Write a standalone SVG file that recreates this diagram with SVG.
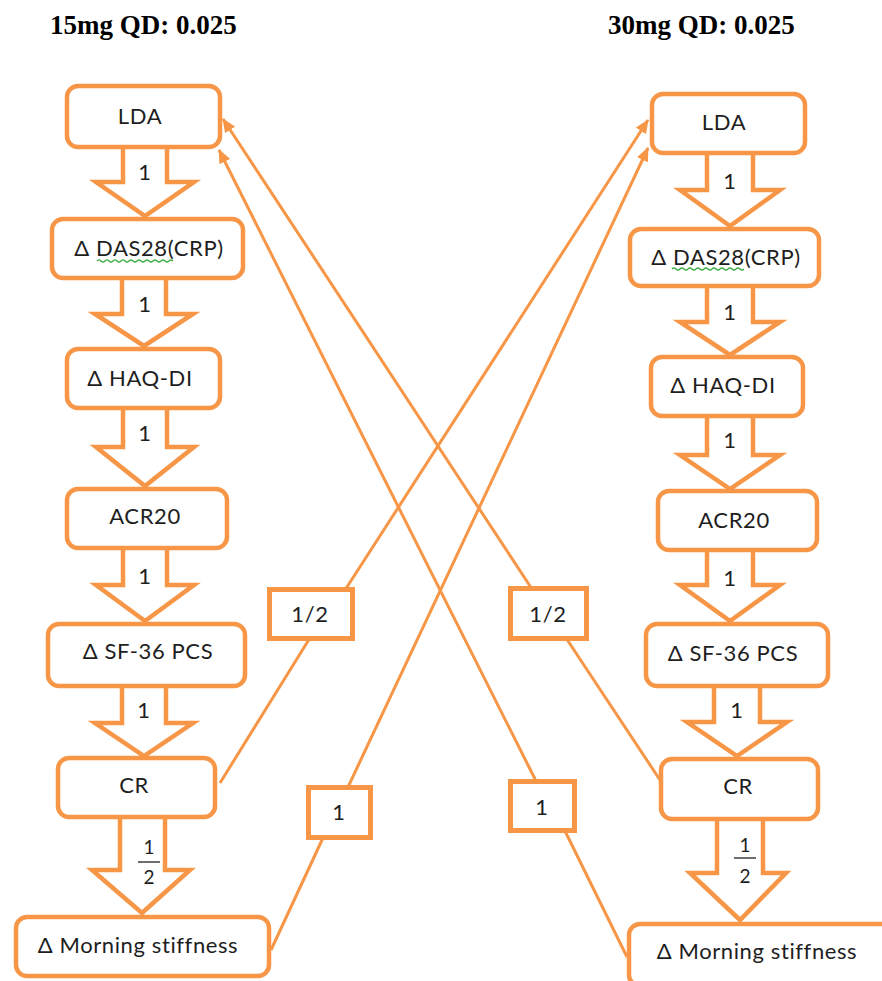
<svg xmlns="http://www.w3.org/2000/svg" width="882" height="981" viewBox="0 0 882 981">
<defs>
<style>
.box{fill:#fff;stroke:#F79646;stroke-width:4.5}
.lbl{fill:#fff;stroke:#F79646;stroke-width:5}
.blk{fill:#fff;stroke:#F79646;stroke-width:4.5;stroke-linejoin:miter}
.con{fill:none;stroke:#F79646;stroke-width:3}
.t{font-family:Lato,"Liberation Sans",sans-serif;font-size:22px;letter-spacing:0.6px;fill:#1e1e1e;text-anchor:middle}
.f{font-family:Lato,"Liberation Sans",sans-serif;font-size:19px;fill:#1e1e1e;text-anchor:middle}
.title{font-family:"Liberation Serif",serif;font-weight:bold;font-size:27px;fill:#000}
.wave{fill:none;stroke:#3cb043;stroke-width:1.2}
</style>
<marker id="ah" markerUnits="userSpaceOnUse" markerWidth="14" markerHeight="12" refX="13" refY="6" orient="auto">
<path d="M0,0 L14,6 L0,12 z" fill="#F79646"/>
</marker>
</defs>
<rect width="882" height="981" fill="#fff"/>

<g id="titles">
<text class="title" x="50" y="34">15mg QD: 0.025</text>
<text class="title" x="608" y="34">30mg QD: 0.025</text>
</g>

<g id="connectors">
<polyline class="con" points="220,783 308,641 347,587 648,120" marker-end="url(#ah)"/>
<polyline class="con" points="271,950 322,840 349,785 648,148" marker-end="url(#ah)"/>
<polyline class="con" points="660,780 568,641 530,586 223,119" marker-end="url(#ah)"/>
<polyline class="con" points="627,957 566,833 535,779 219,150" marker-end="url(#ah)"/>
</g>

<g id="left-arrows">
<path class="blk" d="M123,146 V182 H96 L145,216 L194,182 H167 V146"/>
<path class="blk" d="M122,278 V314 H95 L144,346 L193,314 H166 V278"/>
<path class="blk" d="M123,408 V447 H96 L145,486 L194,447 H167 V408"/>
<path class="blk" d="M123,548 V585 H96 L145,621 L194,585 H167 V548"/>
<path class="blk" d="M122,686 V723 H95 L144,756 L193,723 H166 V686"/>
<path class="blk" d="M120,818 V870 H92 L142,913 L190,870 H165 V818"/>
</g>
<g id="right-arrows">
<path class="blk" d="M707,153 V190 H680 L730,226 L780,190 H753 V153"/>
<path class="blk" d="M707,286 V322 H680 L730,355 L780,322 H753 V286"/>
<path class="blk" d="M707,416 V455 H680 L730,489 L780,455 H753 V416"/>
<path class="blk" d="M707,550 V585 H680 L730,621 L780,585 H753 V550"/>
<path class="blk" d="M714,687 V722 H687 L737,756 L787,722 H760 V687"/>
<path class="blk" d="M717,820 V873 H690 L740,920 L786,873 H763 V820"/>
</g>

<g id="arrow-labels">
<text class="t" x="145" y="180">1</text>
<text class="t" x="145" y="312">1</text>
<text class="t" x="145" y="441">1</text>
<text class="t" x="145" y="584">1</text>
<text class="t" x="144" y="718">1</text>
<text class="f" x="149" y="854">1</text>
<line x1="138" y1="862" x2="160" y2="862" stroke="#1e1e1e" stroke-width="1.3"/>
<text class="f" x="149" y="884">2</text>
<text class="t" x="730" y="189">1</text>
<text class="t" x="730" y="320">1</text>
<text class="t" x="730" y="448">1</text>
<text class="t" x="730" y="586">1</text>
<text class="t" x="737" y="718">1</text>
<text class="f" x="745" y="852">1</text>
<line x1="734" y1="858" x2="756" y2="858" stroke="#1e1e1e" stroke-width="1.3"/>
<text class="f" x="745" y="883">2</text>
</g>

<g id="L-LDA"><rect class="box" x="67" y="86" width="153" height="61" rx="11"/><text class="t" x="140" y="124">LDA</text></g>
<g id="L-DAS28"><rect class="box" x="52" y="219" width="191" height="59" rx="11"/><text class="t" x="149" y="256">Δ DAS28(CRP)</text>
<path class="wave" d="M97,261 q2,-2 4,0 t4,0 t4,0 t4,0 t4,0 t4,0 t4,0 t4,0 t4,0 t4,0 t4,0 t4,0 t4,0 t4,0 t4,0 t4,0 t4,0 t4,0 t4,0"/></g>
<g id="L-HAQ"><rect class="box" x="67" y="349" width="153" height="59" rx="11"/><text class="t" x="140" y="386">Δ HAQ-DI</text></g>
<g id="L-ACR20"><rect class="box" x="67" y="489" width="160" height="59" rx="11"/><text class="t" x="145" y="524">ACR20</text></g>
<g id="L-SF36"><rect class="box" x="48" y="624" width="197" height="62" rx="11"/><text class="t" x="148" y="659">Δ SF-36 PCS</text></g>
<g id="L-CR"><rect class="box" x="58" y="758" width="157" height="59" rx="11"/><text class="t" x="134" y="793">CR</text></g>
<g id="L-MS"><rect class="box" x="16" y="917" width="253" height="59" rx="11"/><text class="t" x="138" y="953">Δ Morning stiffness</text></g>

<g id="R-LDA"><rect class="box" x="652" y="94" width="153" height="59" rx="11"/><text class="t" x="724" y="130">LDA</text></g>
<g id="R-DAS28"><rect class="box" x="630" y="229" width="189" height="57" rx="11"/><text class="t" x="726" y="265">Δ DAS28(CRP)</text>
<path class="wave" d="M672,269 q2,-2 4,0 t4,0 t4,0 t4,0 t4,0 t4,0 t4,0 t4,0 t4,0 t4,0 t4,0 t4,0 t4,0 t4,0 t4,0 t4,0 t4,0 t4,0"/></g>
<g id="R-HAQ"><rect class="box" x="651" y="357" width="152" height="59" rx="11"/><text class="t" x="723" y="393">Δ HAQ-DI</text></g>
<g id="R-ACR20"><rect class="box" x="658" y="491" width="159" height="59" rx="11"/><text class="t" x="734" y="528">ACR20</text></g>
<g id="R-SF36"><rect class="box" x="646" y="624" width="182" height="62" rx="11"/><text class="t" x="733" y="661">Δ SF-36 PCS</text></g>
<g id="R-CR"><rect class="box" x="661" y="759" width="157" height="60" rx="11"/><text class="t" x="738" y="794">CR</text></g>
<g id="R-MS"><rect class="box" x="629" y="924" width="270" height="62" rx="11"/><text class="t" x="757" y="959">Δ Morning stiffness</text></g>

<g id="lbl-L-half"><rect class="lbl" x="269.5" y="589.5" width="83" height="49"/><text class="t" x="310" y="622">1/2</text></g>
<g id="lbl-R-half"><rect class="lbl" x="510.5" y="588.5" width="76" height="50"/><text class="t" x="548" y="622">1/2</text></g>
<g id="lbl-L-one"><rect class="lbl" x="308.5" y="787.5" width="62" height="50"/><text class="t" x="339" y="820">1</text></g>
<g id="lbl-R-one"><rect class="lbl" x="510.5" y="781.5" width="64" height="49"/><text class="t" x="542" y="815">1</text></g>
</svg>
